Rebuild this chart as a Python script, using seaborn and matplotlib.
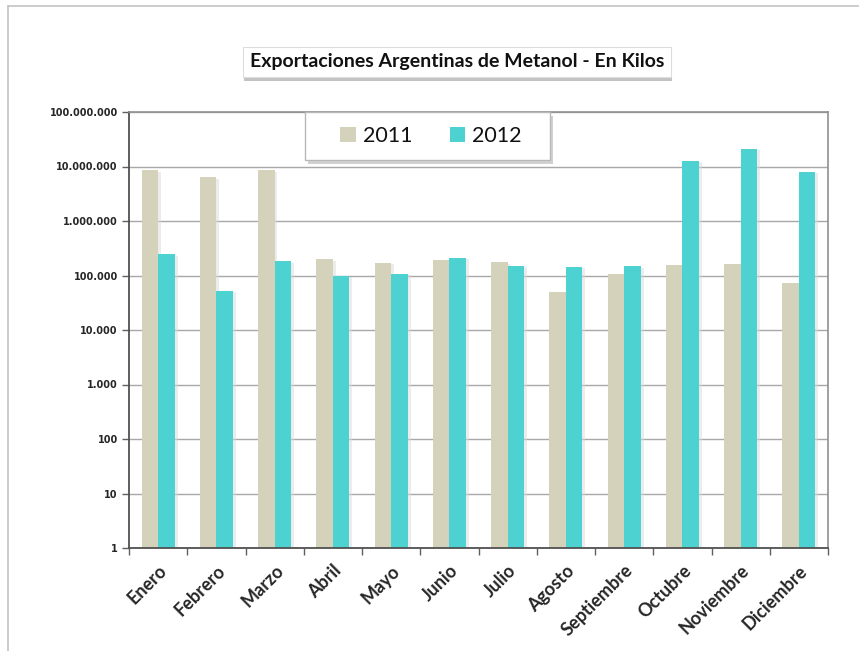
import matplotlib
matplotlib.use("Agg")
import matplotlib.pyplot as plt
import matplotlib.patheffects as pe
from matplotlib.lines import Line2D
from matplotlib.patches import Rectangle
from matplotlib.ticker import FixedLocator, FuncFormatter, NullFormatter
import seaborn as sns
import pandas as pd
import numpy as np

meses = ["Enero", "Febrero", "Marzo", "Abril", "Mayo", "Junio", "Julio",
         "Agosto", "Septiembre", "Octubre", "Noviembre", "Diciembre"]
kilos_2011 = [8500000, 6300000, 8500000, 198000, 170000, 195000, 175000,
              50000, 105000, 156000, 160000, 73000]
kilos_2012 = [245000, 52600, 182000, 100000, 107000, 210000, 150000,
              145000, 148000, 12800000, 21000000, 7900000]
anios = ["2011", "2012"]
colores = ["#d4d2bb", "#4dd1d1"]
y_ticks = [1, 10, 100, 1000, 10000, 100000, 1000000, 10000000, 100000000]

df = pd.DataFrame({
    "mes": meses * 2,
    "kilos": kilos_2011 + kilos_2012,
    "anio": [anios[0]] * 12 + [anios[1]] * 12,
})

sns.set_theme(style="white")
plt.rcParams["font.family"] = ["DejaVu Sans"]

fig = plt.figure(figsize=(8.59, 6.51), dpi=100)
W, H = 859, 651
ax = fig.add_axes([129 / W, 1 - 548 / H, (828 - 129) / W, (548 - 112) / H])

sns.barplot(data=df, x="mes", y="kilos", hue="anio", palette=colores,
            width=0.57, gap=0, log_scale=(False, True), ax=ax, linewidth=0,
            saturation=1, legend=True)

ax.set_yscale("log", nonpositive="clip")
ax.set_ylim(1, 1e8)
ax.set_xlim(-0.5, 11.5)
ax.yaxis.set_major_locator(FixedLocator(y_ticks))
ax.yaxis.set_minor_formatter(NullFormatter())
ax.yaxis.set_minor_locator(FixedLocator([]))
ax.yaxis.set_major_formatter(FuncFormatter(lambda v, p: f"{int(round(v)):,}".replace(",", ".")))
ax.grid(axis="y", color="#a8a8a8", linewidth=1.0)
ax.set_axisbelow(True)
ax.set_xlabel("")
ax.set_ylabel("")

for lab in ax.get_yticklabels():
    lab.set_fontweight("bold")
    lab.set_fontsize(7)
    lab.set_family("DejaVu Sans")
ax.tick_params(axis="y", which="major", length=5, width=1, color="#606060",
               left=True, direction="out", pad=3)

ax.set_xticks(range(12))
ax.set_xticklabels(meses, rotation=45, ha="right", rotation_mode="anchor",
                   fontsize=13, fontweight="bold", family="Lato")
ax.tick_params(axis="x", which="major", length=0, pad=10)
ax.set_xticks(np.arange(-0.5, 12, 1), minor=True)
ax.tick_params(axis="x", which="minor", length=5, width=1, color="#606060",
               bottom=True, direction="out")

for s in ["left", "bottom"]:
    ax.spines[s].set_color("#505050")
    ax.spines[s].set_linewidth(1.3)
for s in ["top", "right"]:
    ax.spines[s].set_color("#909090")
    ax.spines[s].set_linewidth(1.2)
    ax.spines[s].set_visible(True)

# legend box (frame drawn separately to match the wide reference box)
box = Rectangle((305 / W, 1 - 160 / H), (550 - 305) / W, (160 - 112) / H,
                transform=fig.transFigure, facecolor="white", edgecolor="#b8b8b8",
                linewidth=1, zorder=4, clip_on=False)
box.set_path_effects([pe.SimplePatchShadow(offset=(2, -3), shadow_rgbFace="#999999", alpha=0.45),
                      pe.Normal()])
ax.add_patch(box)

handles, labels = ax.get_legend_handles_labels()
leg = ax.legend(handles, labels, ncol=2, loc="center",
                bbox_to_anchor=(431 / W, 1 - 136 / H), bbox_transform=fig.transFigure,
                frameon=False, handlelength=0.7, handleheight=0.7,
                columnspacing=1.75, handletextpad=0.33, borderpad=0,
                prop={"family": "Lato", "size": 15.5}, borderaxespad=0)
leg.set_zorder(6)
for tx in leg.get_texts():
    tx.set_color("#111111")

# subtle bar shadows (after legend so handles stay clean)
for p in ax.patches:
    if p is box:
        continue
    p.set_path_effects([pe.SimplePatchShadow(offset=(2, -1), shadow_rgbFace="#dadada", alpha=0.5), pe.Normal()])

t = fig.text(457 / W, 1 - 62 / H, "Exportaciones Argentinas de Metanol - En Kilos",
             ha="center", va="center", fontsize=14, fontweight="bold",
             family="Lato", color="#111111",
             bbox=dict(boxstyle="square,pad=0.35", facecolor="white",
                       edgecolor="#dddddd", linewidth=0.8))
t.get_bbox_patch().set_path_effects([
    pe.SimplePatchShadow(offset=(1, -3), shadow_rgbFace="#888888", alpha=0.5),
    pe.Normal()])

# outer frame lines
fig.add_artist(Line2D([8 / W, 8 / W], [0, 1 - 6 / H], transform=fig.transFigure,
                      color="#c4c4c4", linewidth=1.2))
fig.add_artist(Line2D([8 / W, 1], [1 - 6 / H, 1 - 6 / H], transform=fig.transFigure,
                      color="#c4c4c4", linewidth=1.2))

fig.savefig("out.png", dpi=100, facecolor="white")
